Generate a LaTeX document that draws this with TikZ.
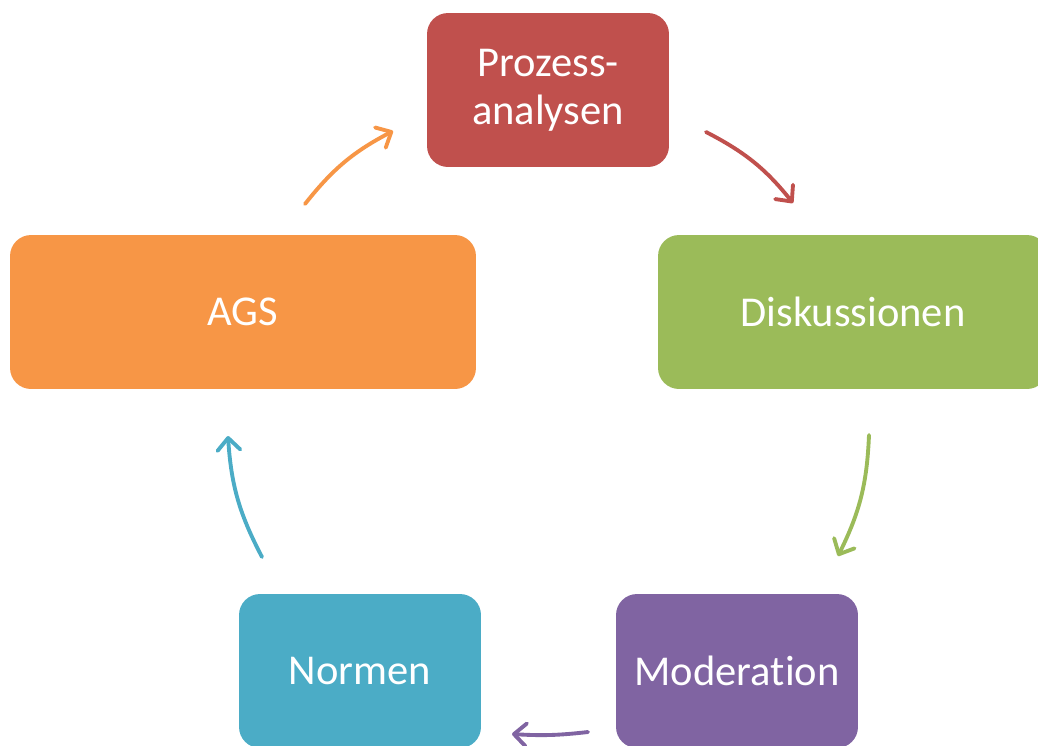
\documentclass[tikz,border=0pt]{standalone}
\usepackage{fontspec}
\setmainfont{Carlito}[Ligatures=NoCommon,RawFeature={-liga;-clig;-calt}]
\usepackage{xcolor}
\usetikzlibrary{arrows.meta}
\definecolor{prozred}{HTML}{C0504D}
\definecolor{diskgreen}{HTML}{9BBB59}
\definecolor{modpurple}{HTML}{8064A2}
\definecolor{normteal}{HTML}{4BACC6}
\definecolor{agsorange}{HTML}{F79646}

\begin{document}
\begin{tikzpicture}[x=0.02cm,y=-0.02cm,
box/.style={rounded corners=0.42cm,text=white,align=center,inner sep=0pt,
 font=\fontsize{24.2}{27.5}\selectfont,minimum height=3.08cm},
cyc/.style={line width=2.2pt,line cap=round,-{Straight Barb[length=7pt,width=13pt,round]}}]
\useasboundingbox(0,0)rectangle(1038,745);
\clip(0,0)rectangle(1038,745);
\node[box,fill=prozred,minimum width=4.84cm](proz)at(548,90){Prozess-\\analysen};
\node[box,fill=diskgreen,minimum width=7.8cm](disk)at(853,312){Diskussionen};
\node[box,fill=modpurple,minimum width=4.84cm](mod)at(737,671){Moderation};
\node[box,fill=normteal,minimum width=4.84cm](norm)at(360,671){Normen};
\node[box,fill=agsorange,minimum width=9.32cm](ags)at(243,312){AGS};
% free ends of the cycle arrows
\coordinate(a1)at(305,204);\coordinate(a2)at(393,131);
\coordinate(b1)at(706,132);\coordinate(b2)at(793,203);
\coordinate(c1)at(869,435);\coordinate(c2)at(838,556);
\coordinate(d1)at(588,732);\coordinate(d2)at(512,734);
\coordinate(e1)at(262,557);\coordinate(e2)at(228,436);
\draw[cyc,agsorange](a1)to[bend left=12](a2);
\draw[cyc,prozred](b1)to[bend left=12](b2);
\draw[cyc,diskgreen](c1)to[bend left=12](c2);
\draw[cyc,modpurple](d1)to[bend left=5](d2);
\draw[cyc,normteal](e1)to[bend left=12](e2);
\end{tikzpicture}
\end{document}
